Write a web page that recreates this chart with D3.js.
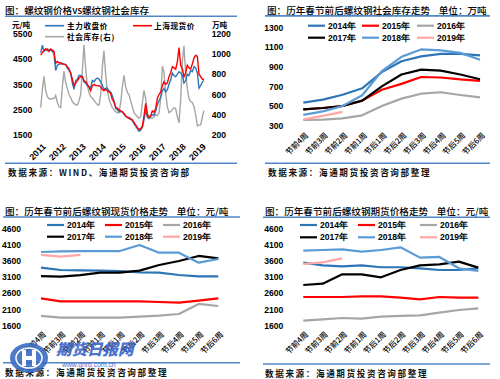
<!DOCTYPE html>
<html><head><meta charset="utf-8">
<script src="https://cdn.jsdelivr.net/npm/d3@7"></script>
<style>
body{margin:0;background:#fff;}
svg{display:block;}
</style></head><body>
<svg id="c" width="500" height="379"></svg>
<script>
// ---------- Panel 1 data (monthly, Jan 2011 – Mar 2019) ----------
const yearTicks = [2011,2012,2013,2014,2015,2016,2017,2018,2019];
const priceTicks = [1500,2500,3500,4500,5500];
const stockTicks = [200,400,600,800,1000,1200];
const futuresClose = [
 4750,5050,4800,4850,4900,4850,4850,4800,4700,4050,4250,4300,
 4300,4330,4300,4280,4150,4050,3950,3550,3300,3650,3700,3850,
 3850,3800,3600,3550,3450,3400,3350,3650,3600,3700,3750,3700,
 3600,3450,3300,3350,3350,3250,3200,3050,2850,2550,2500,2420,
 2430,2420,2320,2250,2200,2150,2120,2080,1950,1850,1750,1650,
 1700,1800,2100,2500,2200,2150,2250,2300,2280,2450,2700,2850,
 3000,3250,3340,3200,3280,3500,3670,3940,3850,3800,3900,4000,
 3950,3850,3550,3650,3900,3850,4050,4000,4200,4150,3950,3350,
 3450,3600,3650];
const shanghaiSpot = [
 4650,4750,4850,4900,4850,4800,4900,4850,4800,4330,4400,4350,
 4350,4300,4300,4280,4200,4100,3950,3700,3450,3550,3650,3750,
 3800,3800,3650,3600,3500,3400,3250,3450,3500,3450,3450,3450,
 3400,3300,3250,3300,3250,3200,3150,2900,2800,2600,2550,2500,
 2450,2420,2350,2250,2200,2180,2150,2100,2000,1900,1800,1720,
 1750,1850,2250,2750,2300,2200,2250,2450,2400,2550,2950,3100,
 3200,3450,3600,3500,3550,3800,3950,4200,4150,4100,4400,4950,
 4250,4100,3800,3950,4250,4150,4100,4300,4550,4650,4600,3900,
 3800,3700,3700];
const socialStock = [
 470,650,780,640,580,560,555,560,560,590,520,480,
 470,680,830,720,660,600,570,530,510,500,495,540,
 600,850,1090,860,690,620,580,565,540,520,500,495,
 600,880,1030,800,640,560,510,470,450,430,420,420,
 520,680,790,680,620,600,540,480,420,400,380,365,
 380,520,640,560,420,380,370,365,380,400,390,420,
 560,880,820,620,480,420,430,450,470,460,380,320,
 560,930,1080,820,660,560,530,520,480,400,290,300,
 300,380,440];

// ---------- Seasonal panels ----------
const weeks = ["节前4周","节前3周","节前2周","节前1周","节后1周","节后2周","节后3周","节后4周","节后5周","节后6周"];
const seasonYears = ["2014年","2015年","2016年","2017年","2018年","2019年"];
const seasonColors = ["#2e75b6","#ff0000","#a6a6a6","#000000","#5b9bd5","#ffa6a6"];

const inv2014 = [535,565,615,680,845,955,1005,1030,1030,1015];
const inv2015 = [465,480,500,555,665,725,795,790,770,755];
const inv2016 = [360,362,375,405,500,575,625,640,612,588];
const inv2017 = [465,480,500,555,700,820,870,860,820,772];
const inv2018 = [410,445,500,610,855,1000,1075,1065,1040,970];
const inv2019 = [365,400,440];
const invTicks = [300,500,700,900,1100,1300];

const spot2014 = [3390,3316,3305,3295,3285,3245,3234,3162,3121,3121];
const spot2015 = [2443,2350,2350,2350,2350,2350,2330,2310,2370,2443];
const spot2016 = [1900,1848,1848,1848,1848,1880,1910,1960,2270,2207];
const spot2017 = [3130,3110,3160,3234,3234,3296,3470,3594,3748,3676];
const spot2018 = [3870,3890,3900,3900,3900,4087,3850,3850,3542,3655];
const spot2019 = [3780,3730,3780];

const fut2014 = [3542,3460,3430,3460,3400,3400,3368,3316,3316,3368];
const fut2015 = [2484,2484,2484,2505,2505,2464,2412,2484,2464,2464];
const fut2016 = [1755,1796,1837,1817,1878,1900,1920,2002,2084,2135];
const fut2017 = [2854,2895,3183,3183,3090,3316,3460,3490,3573,3388];
const fut2018 = [3912,3932,3953,3881,3932,4015,3696,3717,3368,3285];
const fut2019 = [3501,3552,3676];
const priceTicks2 = [1600,2100,2600,3100,3600,4100,4600];

// ---------- drawing ----------
const svg = d3.select("#c");
svg.append("rect").attr("width",500).attr("height",379).attr("fill","#fff");
const CJK = "'Noto Sans CJK SC','Noto Sans',sans-serif";
const NUM = "'Liberation Sans',Arial,sans-serif";
const RULE = "#4f86c6";
const fmt = d3.format("d");

function rule(x1,x2,y){ svg.append("line").attr("x1",x1).attr("x2",x2).attr("y1",y).attr("y2",y).attr("stroke",RULE).attr("stroke-width",1.6); }
function title(x,y,t){ svg.append("text").attr("x",x).attr("y",y).attr("font-family",CJK).attr("font-size",9.6).attr("font-weight",500).attr("fill","#000").attr("xml:space","preserve").style("white-space","pre").text(t); }
function source(x,y,t){ svg.append("text").attr("x",x).attr("y",y).attr("font-family",CJK).attr("font-size",8.6).attr("font-weight",700).attr("letter-spacing",1.6).attr("fill","#111").text(t); }
function styleAxis(g,size,fam){
  g.select(".domain").remove();
  g.attr("font-family",fam).attr("font-size",size);
  g.selectAll("text").attr("font-weight","bold").attr("fill","#000");
}

// ===== Panel 1 =====
title(5,14,"图：螺纹钢价格vs螺纹钢社会库存");
rule(5,237,16.3);
rule(5,237,163.3);
source(8,176,"数据来源：WIND、海通期货投资咨询部");

const months = d3.timeMonth.range(new Date(2011,0,1), new Date(2019,3,1));
const x1 = d3.scaleTime().domain([new Date(2011,0,1), new Date(2019,0,1)]).range([40.7,200.7]);
const yL = d3.scaleLinear().domain([1500,5500]).range([135,33.7]);
const yR = d3.scaleLinear().domain([200,1200]).range([135,33.7]);

const gl = svg.append("g").attr("transform","translate(40.7,0)")
  .call(d3.axisLeft(yL).tickValues(priceTicks).tickFormat(fmt).tickSize(0).tickPadding(8.5));
styleAxis(gl,8.6,NUM);
const gr = svg.append("g").attr("transform","translate(200.7,0)")
  .call(d3.axisRight(yR).tickValues(stockTicks).tickFormat(fmt).tickSize(0).tickPadding(11));
styleAxis(gr,8.6,NUM);
const gb = svg.append("g").attr("transform","translate(0,139)")
  .call(d3.axisBottom(x1).tickValues(yearTicks.map(y=>new Date(y,0,1))).tickSize(0).tickFormat(d3.timeFormat("%Y")));
styleAxis(gb,8.8,NUM);
gb.selectAll("text").attr("x",0).attr("y",0).attr("dy","0.35em").attr("text-anchor","end").attr("transform","translate(3,6) rotate(-45)");

svg.append("text").attr("x",12).attr("y",27.5).attr("font-family",CJK).attr("font-size",7.6).attr("font-weight",700).text("元/吨");
svg.append("text").attr("x",212).attr("y",27.5).attr("font-family",CJK).attr("font-size",7.6).attr("font-weight",700).text("万吨");

const lineL = d3.line().x((d,i)=>x1(months[i])).y(d=>yL(d));
const lineR = d3.line().x((d,i)=>x1(months[i])).y(d=>yR(d));
svg.append("path").attr("d",lineR(socialStock)).attr("fill","none").attr("stroke","#a6a6a6").attr("stroke-width",1.4);
svg.append("path").attr("d",lineL(futuresClose)).attr("fill","none").attr("stroke","#2e75b6").attr("stroke-width",1.4);
svg.append("path").attr("d",lineL(shanghaiSpot)).attr("fill","none").attr("stroke","#ff0000").attr("stroke-width",1.4);

const leg1 = [
  {name:"主力收盘价", c:"#2e75b6", lx:45, tx:67, y:25.7},
  {name:"上海现货价", c:"#ff0000", lx:133, tx:154, y:25.7},
  {name:"社会库存(右)", c:"#a6a6a6", lx:45, tx:67, y:36.7}
];
leg1.forEach(l=>{
  svg.append("line").attr("x1",l.lx).attr("x2",l.lx+19).attr("y1",l.y).attr("y2",l.y).attr("stroke",l.c).attr("stroke-width",1.6);
  svg.append("text").attr("x",l.tx).attr("y",l.y+2.8).attr("font-family",CJK).attr("font-size",7.6).attr("font-weight",700).attr("letter-spacing",0.6).text(l.name);
});

// ===== Seasonal panels =====
function seasonPanel(cfg){
  title(cfg.tx, cfg.ty, cfg.title);
  rule(cfg.r1, cfg.r2, cfg.ruleTop);
  rule(cfg.r1, cfg.r2, cfg.ruleBot);
  source(cfg.sx, cfg.sy, "数据来源：海通期货投资咨询部整理");
  const x = d3.scalePoint().domain(weeks).range(cfg.xr);
  const y = d3.scaleLinear().domain(cfg.yd).range(cfg.yr);
  const ga = svg.append("g").attr("transform",`translate(${cfg.xr[0]-20},0)`)
    .call(d3.axisLeft(y).tickValues(cfg.ticks).tickFormat(fmt).tickSize(0).tickPadding(0));
  styleAxis(ga,8.6,NUM);
  const gx = svg.append("g").attr("transform",`translate(0,${cfg.labY})`)
    .call(d3.axisBottom(x).tickSize(0));
  styleAxis(gx,7.8,CJK);
  gx.selectAll("text").attr("font-weight",500).attr("x",0).attr("y",0).attr("dy","0.35em").attr("text-anchor","end").attr("transform","translate(3,3) rotate(-45)");
  const ln = d3.line().x((d,i)=>x(weeks[i])).y(d=>y(d));
  cfg.series.forEach((s,k)=>{
    svg.append("path").attr("d",ln(s)).attr("fill","none").attr("stroke",seasonColors[k]).attr("stroke-width",2.2).attr("stroke-linejoin","round");
  });
  seasonYears.forEach((n,k)=>{
    const col = k%3, row = Math.floor(k/3);
    const ly = cfg.legY[row];
    svg.append("line").attr("x1",cfg.legX[col]).attr("x2",cfg.legX[col]+17).attr("y1",ly).attr("y2",ly).attr("stroke",seasonColors[k]).attr("stroke-width",2.2);
    svg.append("text").attr("x",cfg.legX[col]+20).attr("y",ly+3).attr("font-family",NUM).attr("font-size",8.6).attr("font-weight","bold").text(n);
  });
}

seasonPanel({
  title:"图：历年春节前后螺纹钢社会库存走势    单位：万吨", tx:267, ty:14,
  r1:265, r2:490, ruleTop:15.9, ruleBot:163.3, sx:268, sy:176,
  xr:[303.3,480], yd:[300,1300], yr:[125.7,27.3], ticks:invTicks, labY:131,
  legX:[308,362,417], legY:[25.7,37.7],
  series:[inv2014,inv2015,inv2016,inv2017,inv2018,inv2019]
});
seasonPanel({
  title:"图：历年春节前后螺纹钢现货价格走势    单位：元/吨", tx:5, ty:215,
  r1:3, r2:240, ruleTop:217, ruleBot:362.7, sx:5, sy:376,
  xr:[41,218.3], yd:[1600,4600], yr:[325.7,228.3], ticks:priceTicks2, labY:330,
  legX:[47,105,163], legY:[225,236.7],
  series:[spot2014,spot2015,spot2016,spot2017,spot2018,spot2019]
});
seasonPanel({
  title:"图：历年春节前后螺纹钢期货价格走势    单位：元/吨", tx:265, ty:215,
  r1:263, r2:490, ruleTop:217.3, ruleBot:364, sx:265, sy:377,
  xr:[303.3,478.3], yd:[1600,4600], yr:[325.7,228.3], ticks:priceTicks2, labY:330,
  legX:[300,358,420], legY:[225,237.3],
  series:[fut2014,fut2015,fut2016,fut2017,fut2018,fut2019]
});

// watermark (logo drawn as shapes)
const wm = svg.append("g").attr("opacity",0.9);
wm.append("ellipse").attr("cx",29).attr("cy",358).attr("rx",19).attr("ry",15).attr("fill","#3a6cc4");
wm.append("ellipse").attr("cx",29).attr("cy",358).attr("rx",13).attr("ry",10).attr("fill","none").attr("stroke","#fff").attr("stroke-width",1.5);
wm.append("path").attr("d","M22,350h4v6h6v-6h4v16h-4v-6h-6v6h-4z").attr("fill","#fff");
wm.append("text").attr("x",56).attr("y",355).attr("font-family",CJK).attr("font-weight",900).attr("font-style","italic").attr("font-size",15.5).attr("fill","#3a64c8").text("期货日报网");
wm.append("text").attr("x",62).attr("y",366.5).attr("font-family",NUM).attr("font-size",6.8).attr("fill","#3a64c8").text("www.qhrb.com.cn");
</script>
</body></html>
